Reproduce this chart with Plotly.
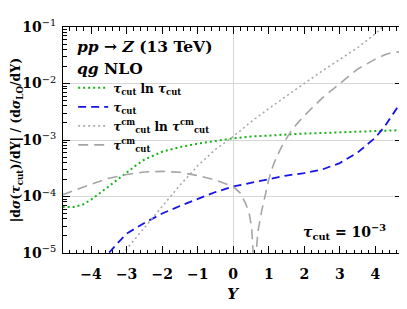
import plotly.graph_objects as go

# ---------------- data ----------------
Y_green = [-4.8, -4.5, -4.25, -4.0, -3.75, -3.5, -3.25, -3.0, -2.75, -2.5, -2.0, -1.5, -1.0, -0.5,
           0.0, 0.5, 1.0, 1.5, 2.0, 2.5, 3.0, 3.5, 4.0, 4.5, 4.8]
V_green = [6.5e-5, 6.5e-5, 7.1e-5, 8.8e-5, 1.15e-4, 1.5e-4, 2.0e-4, 2.65e-4, 3.5e-4, 4.5e-4, 6.2e-4,
           7.5e-4, 8.6e-4, 9.7e-4, 1.07e-3, 1.15e-3, 1.21e-3, 1.26e-3, 1.3e-3, 1.33e-3, 1.36e-3,
           1.4e-3, 1.44e-3, 1.48e-3, 1.5e-3]

Y_blue = [-3.75, -3.5, -3.25, -3.0, -2.5, -2.0, -1.5, -1.0, -0.5, 0.0, 0.5, 1.0, 1.5, 2.0, 2.5, 3.0,
          3.5, 4.0, 4.25, 4.5, 4.8]
V_blue = [7.0e-6, 1.0e-5, 1.5e-5, 2.2e-5, 3.4e-5, 5.0e-5, 6.8e-5, 9.0e-5, 1.2e-4, 1.5e-4, 1.75e-4,
          2.0e-4, 2.35e-4, 2.6e-4, 3.0e-4, 3.9e-4, 6.0e-4, 1.1e-3, 1.7e-3, 2.9e-3, 5.6e-3]

Y_gdot = [-3.3, -3.0, -2.5, -2.0, -1.5, -1.0, -0.5, 0.0, 0.5, 1.0, 1.5, 2.0, 2.5, 3.0, 3.5, 4.0, 4.3]
V_gdot = [7.0e-6, 1.18e-5, 2.8e-5, 6.8e-5, 1.58e-4, 3.5e-4, 6.8e-4, 1.15e-3, 2.1e-3, 3.6e-3,
          5.9e-3, 1.0e-2, 1.66e-2, 2.7e-2, 4.3e-2, 7.6e-2, 1.15e-1]

Y_gdash = [-4.8, -4.5, -4.0, -3.5, -3.0, -2.5, -2.0, -1.5, -1.0, -0.5, 0.0, 0.2, 0.35, 0.45, 0.52,
           0.57, 0.59, 0.61, 0.65, 0.7, 0.8, 0.9, 1.0, 1.1, 1.2, 1.4, 1.6, 1.8, 2.0, 2.5, 3.0, 3.5,
           4.0, 4.25, 4.5, 4.65, 4.8]
V_gdash = [1.07e-4, 1.27e-4, 1.65e-4, 2.1e-4, 2.45e-4, 2.72e-4, 2.78e-4, 2.68e-4, 2.35e-4, 1.95e-4,
           1.5e-4, 1.15e-4, 7.5e-5, 5.0e-5, 2.8e-5, 8.0e-6, 1.0e-7, 6.0e-6, 1.2e-5, 2.5e-5, 5.5e-5,
           1.1e-4, 2.0e-4, 3.2e-4, 4.7e-4, 8.5e-4, 1.35e-3, 1.95e-3, 2.7e-3, 5.5e-3, 1.0e-2, 1.8e-2,
           2.7e-2, 3.2e-2, 3.6e-2, 3.6e-2, 3.1e-2]

names = [
    "<b><i>τ</i><sub>cut</sub> ln <i>τ</i><sub>cut</sub></b>",
    "<b><i>τ</i><sub>cut</sub></b>",
    "<b><i>τ</i><sup>cm</sup><sub>cut</sub> ln <i>τ</i><sup>cm</sup><sub>cut</sub></b>",
    "<b><i>τ</i><sup>cm</sup><sub>cut</sub></b>",
]

x_ticks = [-4, -3, -2, -1, 0, 1, 2, 3, 4]
x_ticktext = ["<b>−4</b>", "<b>−3</b>", "<b>−2</b>", "<b>−1</b>", "<b>0</b>",
              "<b>1</b>", "<b>2</b>", "<b>3</b>", "<b>4</b>"]
y_ticks = [1e-5, 1e-4, 1e-3, 1e-2, 1e-1]
y_ticktext = ["<b>10</b><sup>−5</sup>", "<b>10</b><sup>−4</sup>", "<b>10</b><sup>−3</sup>",
              "<b>10</b><sup>−2</sup>", "<b>10</b><sup>−1</sup>"]

# ---------------- figure ----------------
FONT = "DejaVu Serif, Liberation Serif, serif"
fig = go.Figure()
fig.add_trace(go.Scatter(x=Y_green, y=V_green, mode="lines", name=names[0],
                         line=dict(color="rgb(20,180,20)", width=2, dash="2px,3px")))
fig.add_trace(go.Scatter(x=Y_blue, y=V_blue, mode="lines", name=names[1],
                         line=dict(color="rgb(20,20,230)", width=1.8, dash="8px,5px")))
fig.add_trace(go.Scatter(x=Y_gdot, y=V_gdot, mode="lines", name=names[2],
                         line=dict(color="rgb(170,170,170)", width=1.6, dash="2px,3px")))
fig.add_trace(go.Scatter(x=Y_gdash, y=V_gdash, mode="lines", name=names[3],
                         line=dict(color="rgb(165,165,165)", width=1.6, dash="10px,6px")))

minor_y = [m * 10 ** e for e in range(-5, -1) for m in range(2, 10)]

# the page body has a default 8px margin, so the figure is drawn 8px right/down
fig.update_layout(
    width=399, height=301,
    margin=dict(l=55, r=5, t=19, b=56, autoexpand=False),
    paper_bgcolor="white", plot_bgcolor="white",
    font=dict(family=FONT, size=13, color="black"),
    showlegend=True,
    legend=dict(x=0.03, y=0.795, xanchor="left", yanchor="top",
                bgcolor="rgba(0,0,0,0)", font=dict(size=12, family=FONT),
                tracegroupgap=0, itemwidth=30),
    xaxis=dict(range=[-4.79, 4.75], tickvals=x_ticks, ticktext=x_ticktext, automargin=False,
               ticks="inside", ticklen=7, tickcolor="black", tickwidth=1, ticklabelstandoff=8,
               minor=dict(dtick=0.2, tick0=0, ticks="inside", ticklen=3.5, tickcolor="black"),
               showline=True, linecolor="black", linewidth=1, mirror="allticks",
               showgrid=False, zeroline=True, zerolinecolor="rgb(215,215,215)", zerolinewidth=1,
               tickfont=dict(size=14, family=FONT),
               title=dict(text="<b><i>Y</i></b>", font=dict(size=15, family=FONT), standoff=7)),
    yaxis=dict(type="log", range=[-5, -1], tickvals=y_ticks, ticktext=y_ticktext, automargin=False,
               ticks="inside", ticklen=7, tickcolor="black", tickwidth=1, ticklabelstandoff=3,
               minor=dict(tickmode="array", tickvals=minor_y, ticks="inside", ticklen=3.5,
                          tickcolor="black", showgrid=False),
               showline=True, linecolor="black", linewidth=1, mirror="allticks",
               showgrid=True, gridcolor="rgb(215,215,215)", gridwidth=1, zeroline=False,
               tickfont=dict(size=14, family=FONT),
               title=dict(text="<b>|d<i>σ</i>(<i>τ</i><sub>cut</sub>)/dY| / (d<i>σ</i><sub>LO</sub>/dY)</b>",
                          font=dict(size=12.5, family=FONT), standoff=15)),
)

fig.add_annotation(xref="paper", yref="paper", x=0.035, y=0.915, xanchor="left", yanchor="middle",
                   text="<b><i>pp</i> → <i>Z</i> (13 TeV)</b>", showarrow=False,
                   font=dict(size=15.5, family=FONT))
fig.add_annotation(xref="paper", yref="paper", x=0.035, y=0.815, xanchor="left", yanchor="middle",
                   text="<b><i>qg</i> NLO</b>", showarrow=False, font=dict(size=15.5, family=FONT))
fig.add_annotation(xref="paper", yref="paper", x=0.958, y=0.093, xanchor="right", yanchor="middle",
                   text="<b><i>τ</i><sub>cut</sub> = 10<sup>−3</sup></b>", showarrow=False,
                   font=dict(size=14, family=FONT))

fig.write_html("out.html")
